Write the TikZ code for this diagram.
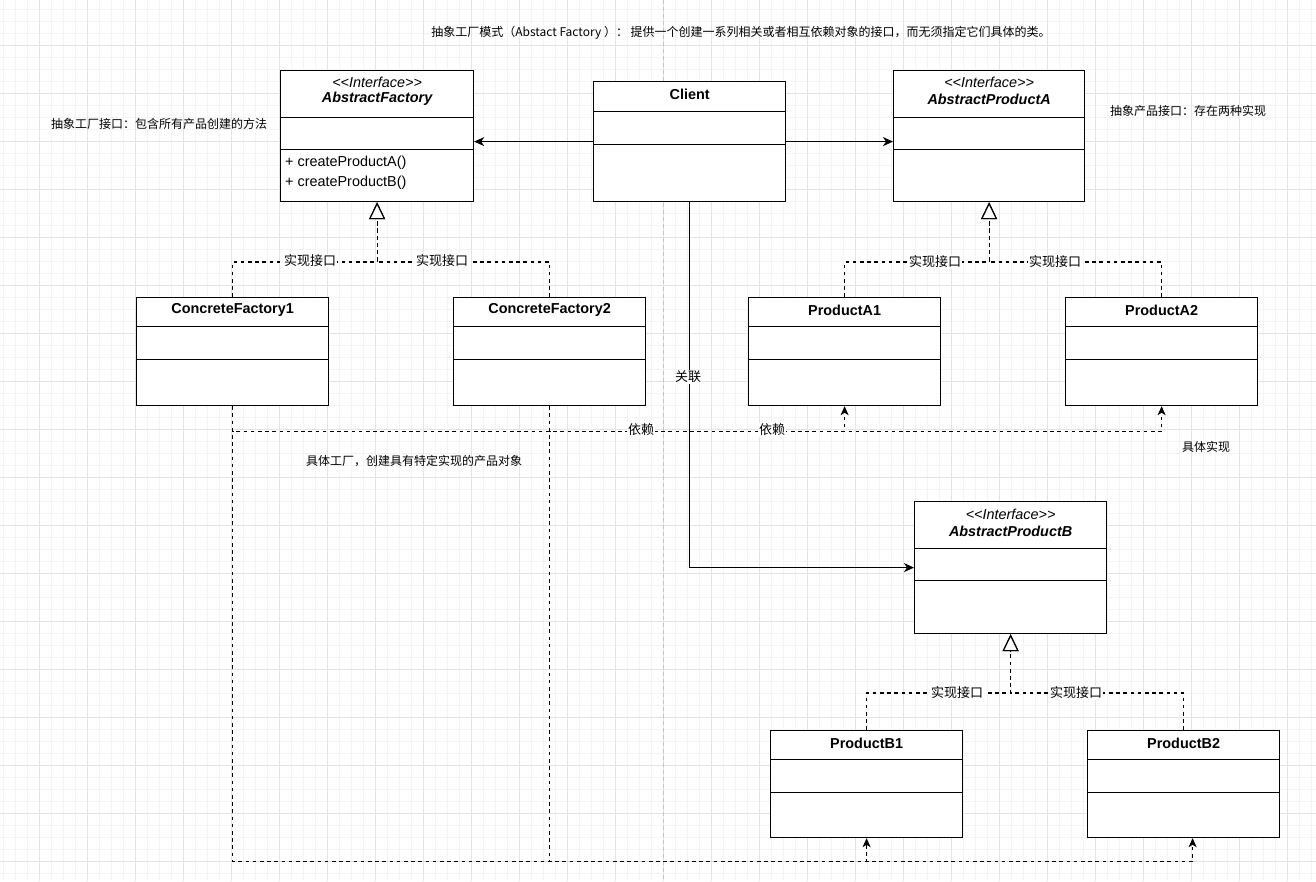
\documentclass[tikz,border=0pt]{standalone}
\usepackage{fontspec}
\setmainfont{Liberation Sans}
\newfontfamily\cjk{Noto Sans CJK SC}
\usetikzlibrary{arrows.meta}
\definecolor{gridminor}{HTML}{F4F4F4}
\definecolor{gridmajor}{HTML}{E3E3E3}
\definecolor{pagebreak}{HTML}{C4C4C4}

\begin{document}
\begin{tikzpicture}[x=1pt,y=-1pt,
  umlbox/.style 2 args={draw,fill=white,line width=1.2pt,anchor=north west,minimum width=192pt,inner sep=0pt,
    path picture={\draw[line width=1.2pt]
      ([yshift=-#1]path picture bounding box.north west) -- ([yshift=-#1]path picture bounding box.north east)
      ([yshift=-#2]path picture bounding box.north west) -- ([yshift=-#2]path picture bounding box.north east);}},
  cname/.style={font=\bfseries\fontsize{14.4}{16}\selectfont,inner sep=0pt},
  stereo/.style={font=\itshape\fontsize{14.4}{16}\selectfont,inner sep=0pt},
  iname/.style={font=\bfseries\itshape\fontsize{14.4}{16}\selectfont,inner sep=0pt},
  ops/.style={font=\fontsize{14.4}{20}\selectfont,align=left,inner sep=0pt,anchor=west},
  note/.style={font=\cjk\fontsize{12}{14}\selectfont,inner sep=0pt},
  elabel/.style={font=\cjk\fontsize{13}{15}\selectfont,fill=white,inner sep=1pt},
  assoc/.style={line width=1.2pt,-{Stealth[length=10pt,width=9pt,inset=3pt]}},
  realize/.style={line width=1.2pt,dash pattern=on 3.6pt off 3.6pt,-{Triangle[length=17pt,width=16pt,fill=white]}},
  dep/.style={line width=1.2pt,dash pattern=on 3.6pt off 3.6pt,-{Stealth[length=9pt,width=8pt,inset=2.5pt]}}]
\useasboundingbox (0,0) rectangle (1316,881);
\foreach \x in {3.5,15.5,...,1316} \draw[gridminor,line width=1pt] (\x,0) -- (\x,881);
\foreach \y in {9,21,...,881} \draw[gridminor,line width=1pt] (0,\y) -- (1316,\y);
\foreach \x in {39.5,87.5,...,1316} \draw[gridmajor,line width=1pt] (\x,0) -- (\x,881);
\foreach \y in {45,93,...,881} \draw[gridmajor,line width=1pt] (0,\y) -- (1316,\y);
\draw[pagebreak,line width=1pt,dash pattern=on 4pt off 3pt] (663.5,0) -- (663.5,881);

\node[umlbox={47pt}{79pt},minimum width=193pt,minimum height=131pt] (af) at (280,70) {};
\node[stereo] (af-st) at ([yshift=-12pt]af.north) {<\kern0pt<Interface>\kern0pt>};
\node[iname] (af-name) at ([yshift=-29pt]af.north) {AbstractFactory};
\node[ops] (af-ops) at (285,173) {+ createProductA()\\+ createProductB()};

\node[umlbox={30pt}{63pt},minimum height=120pt] (client) at (593,81) {};
\node[cname] (client-name) at ([yshift=-13pt]client.north) {Client};

\node[umlbox={47pt}{79pt},minimum width=191pt,minimum height=131pt] (apa) at (893,70) {};
\node[stereo] (apa-st) at ([yshift=-12pt]apa.north) {<\kern0pt<Interface>\kern0pt>};
\node[iname] (apa-name) at ([yshift=-29pt]apa.north) {AbstractProductA};

\node[umlbox={29pt}{62pt},minimum height=108pt] (cf1) at (136,297) {};
\node[cname] (cf1-name) at ([yshift=-13pt]cf1.north) {ConcreteFactory1};
\node[umlbox={29pt}{62pt},minimum height=108pt] (cf2) at (453,297) {};
\node[cname] (cf2-name) at ([yshift=-13pt]cf2.north) {ConcreteFactory2};
\node[umlbox={29pt}{62pt},minimum height=108pt] (pa1) at (748,297) {};
\node[cname] (pa1-name) at ([yshift=-13pt]pa1.north) {ProductA1};
\node[umlbox={29pt}{62pt},minimum height=108pt] (pa2) at (1065,297) {};
\node[cname] (pa2-name) at ([yshift=-13pt]pa2.north) {ProductA2};

\node[umlbox={47pt}{79pt},minimum height=132pt] (apb) at (914,501) {};
\node[stereo] (apb-st) at ([yshift=-13pt]apb.north) {<\kern0pt<Interface>\kern0pt>};
\node[iname] (apb-name) at ([yshift=-30pt]apb.north) {AbstractProductB};

\node[umlbox={29pt}{62pt},minimum height=107pt] (pb1) at (770,730) {};
\node[cname] (pb1-name) at ([yshift=-13pt]pb1.north) {ProductB1};
\node[umlbox={29pt}{62pt},minimum height=107pt] (pb2) at (1087,730) {};
\node[cname] (pb2-name) at ([yshift=-13pt]pb2.north) {ProductB2};

\draw[assoc] (client.west) -- (client.west -| af.east);
\draw[assoc] (client.east) -- (client.east -| apa.west);
\draw[assoc] (client.south) |- (apb.west);

\draw[realize] (cf1.north) -- ++(0,-35) -| (af.south);
\draw[realize] (cf2.north) -- ++(0,-35) -| (af.south);
\draw[realize] (pa1.north) -- ++(0,-35) -| (apa.south);
\draw[realize] (pa2.north) -- ++(0,-35) -| (apa.south);
\draw[realize] (pb1.north) -- ++(0,-37) -| (apb.south);
\draw[realize] (pb2.north) -- ++(0,-37) -| (apb.south);

\draw[dep] (cf1.south) -- ++(0,25) -| (pa1.south);
\draw[dep] (cf2.south) -- ++(0,25) -| (pa2.south);
\draw[dep] (cf1.south) -- ++(0,455) -| (pb1.south);
\draw[dep] (cf2.south) -- ++(0,455) -| ([xshift=9pt]pb2.south);

\node[elabel] (assoc-lbl) at (688,377) {关联};
\node[elabel] (cf1-real) at (310,261) {实现接口};
\node[elabel] (cf2-real) at (442,261) {实现接口};
\node[elabel] (pa1-real) at (935,262) {实现接口};
\node[elabel] (pa2-real) at (1055,262) {实现接口};
\node[elabel] (pb1-real) at (957,693) {实现接口};
\node[elabel] (pb2-real) at (1076,693) {实现接口};
\node[elabel] (dep1-lbl) at (641,430) {依赖};
\node[elabel] (dep2-lbl) at (772,430) {依赖};

\node[note] (title) at (741,33) {抽象工厂模式（Abstact Factory ）： 提供一个创建一系列相关或者相互依赖对象的接口，而无须指定它们具体的类。};
\node[note] (af-note) at (159,124) {抽象工厂接口：包含所有产品创建的方法};
\node[note] (apa-note) at (1188,111) {抽象产品接口：存在两种实现};
\node[note] (cf-note) at (414,461) {具体工厂，创建具有特定实现的产品对象};
\node[note] (impl-note) at (1206,447) {具体实现};
\end{tikzpicture}
\end{document}
